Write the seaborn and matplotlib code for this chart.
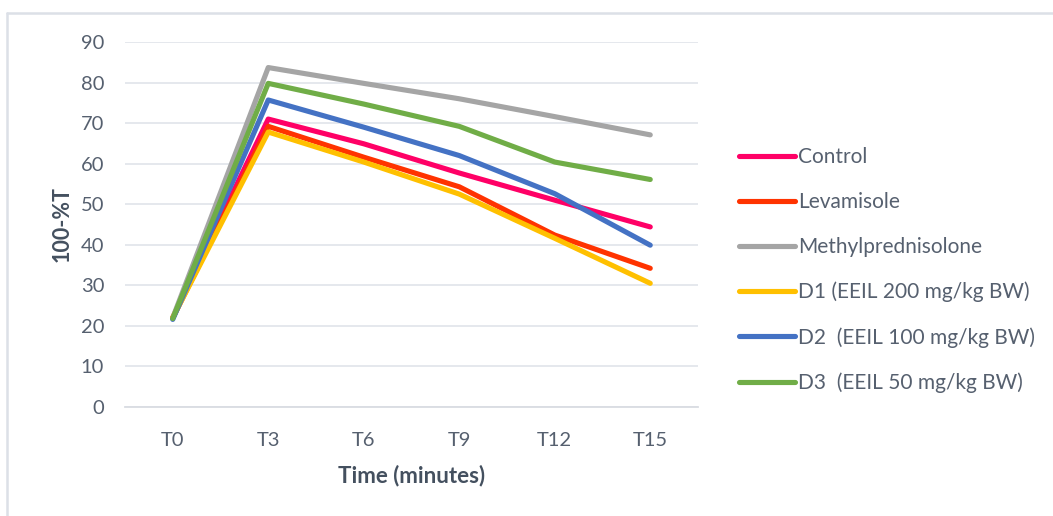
import matplotlib
matplotlib.use("Agg")
import matplotlib.pyplot as plt
from matplotlib.lines import Line2D
from matplotlib.ticker import FixedLocator, MultipleLocator
import seaborn as sns
import pandas as pd

# Time points (minutes) and 100-%T readings per treatment group
time_points = ["T0", "T3", "T6", "T9", "T12", "T15"]
control = [22.0, 71.0, 64.9, 57.7, 51.0, 44.4]
levamisole = [22.0, 69.2, 61.6, 54.3, 42.4, 34.2]
methylprednisolone = [22.0, 83.7, 79.8, 76.0, 71.6, 67.1]
d1_eeil_200 = [22.0, 67.8, 60.4, 52.5, 41.6, 30.5]
d2_eeil_100 = [21.6, 75.7, 69.0, 62.0, 52.6, 39.9]
d3_eeil_50 = [21.8, 79.8, 74.7, 69.2, 60.4, 56.1]

group_names = [
    "Control",
    "Levamisole",
    "Methylprednisolone",
    "D1 (EEIL 200 mg/kg BW)",
    "D2  (EEIL 100 mg/kg BW)",
    "D3  (EEIL 50 mg/kg BW)",
]
group_values = [control, levamisole, methylprednisolone,
                d1_eeil_200, d2_eeil_100, d3_eeil_50]
group_colors = ["#FF0066", "#FF3300", "#A5A5A5", "#FFC000", "#4472C4", "#70AD47"]

frames = []
for name, vals in zip(group_names, group_values):
    frames.append(pd.DataFrame({"time": time_points, "value": vals, "group": name}))
df = pd.concat(frames, ignore_index=True)

sns.set_theme(style="white")
plt.rcParams["font.family"] = ["Lato", "DejaVu Sans"]

tick_color = "#56606F"
title_color = "#44505F"
grid_color = "#E3E6EC"

fig = plt.figure(figsize=(10.53, 5.16), dpi=100)
ax = fig.add_axes([125 / 1053, 1 - 407 / 516, (698 - 125) / 1053, (407 - 42) / 516])

sns.lineplot(
    data=df, x="time", y="value", hue="group",
    hue_order=group_names, palette=group_colors,
    sort=False, linewidth=3.7, ax=ax, legend=True,
)
for line in ax.get_lines():
    line.set_solid_capstyle("round")
    line.set_solid_joinstyle("round")

ax.set_ylim(0, 90)
ax.set_xlim(-0.5, len(time_points) - 0.5)
ax.yaxis.set_major_locator(MultipleLocator(10))
ax.grid(axis="y", color=grid_color, linewidth=1.3)
ax.set_axisbelow(True)

for side in ["left", "right", "top"]:
    ax.spines[side].set_visible(False)
ax.spines["bottom"].set_color("#D9DCE2")
ax.spines["bottom"].set_linewidth(1.3)

# Category boundary tick marks along the x axis
ax.xaxis.set_minor_locator(FixedLocator([i - 0.5 for i in range(len(time_points) + 1)]))
ax.tick_params(axis="x", which="minor", length=8, width=1.2, color="#D9DCE2", direction="out")
ax.tick_params(axis="x", which="major", length=0, pad=18, labelsize=14.5, labelcolor=tick_color)
ax.tick_params(axis="y", length=0, pad=15, labelsize=14.5, labelcolor=tick_color)

ax.set_xlabel("Time (minutes)", fontsize=16, fontweight="bold", color=title_color, labelpad=11)
ax.set_ylabel("100-%T", fontsize=15.5, fontweight="bold", color=title_color, labelpad=6)

handles, labels = ax.get_legend_handles_labels()
ax.legend(
    handles, labels, loc="upper left",
    bbox_to_anchor=(731 / 1053, 1 - 139 / 516), bbox_transform=fig.transFigure,
    frameon=False, fontsize=15, labelcolor=tick_color,
    handlelength=2.65, handletextpad=0.15, labelspacing=1.19, borderaxespad=0,
)

# Light frame lines along the top and left edges
frame_color = "#DCE0E7"
fig.add_artist(Line2D([7 / 1053, 1], [1 - 13 / 516, 1 - 13 / 516],
                      transform=fig.transFigure, color=frame_color, linewidth=1.8))
fig.add_artist(Line2D([7 / 1053, 7 / 1053], [0, 1 - 13 / 516],
                      transform=fig.transFigure, color=frame_color, linewidth=1.8))

fig.savefig("out.png", dpi=100)
